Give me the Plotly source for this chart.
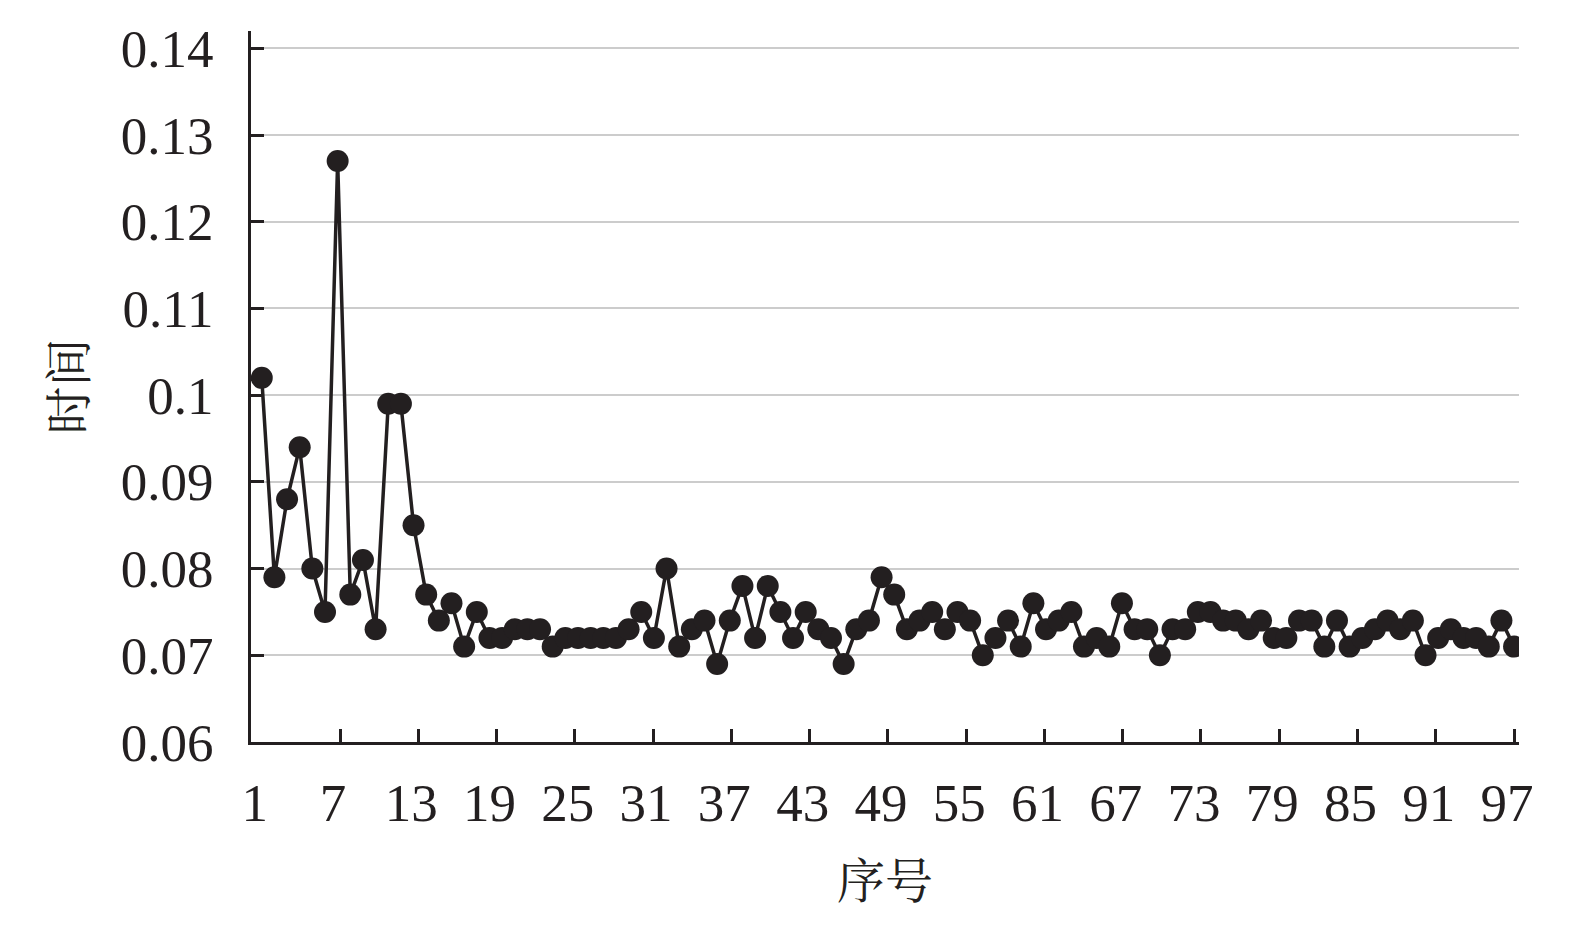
import plotly.graph_objects as go

# 序号 / 时间 data
seq = list(range(1, 101))
times = [
    0.102, 0.079, 0.088, 0.094, 0.080, 0.075, 0.127, 0.077, 0.081, 0.073,
    0.099, 0.099, 0.085, 0.077, 0.074, 0.076, 0.071, 0.075, 0.072, 0.072,
    0.073, 0.073, 0.073, 0.071, 0.072, 0.072, 0.072, 0.072, 0.072, 0.073,
    0.075, 0.072, 0.080, 0.071, 0.073, 0.074, 0.069, 0.074, 0.078, 0.072,
    0.078, 0.075, 0.072, 0.075, 0.073, 0.072, 0.069, 0.073, 0.074, 0.079,
    0.077, 0.073, 0.074, 0.075, 0.073, 0.075, 0.074, 0.070, 0.072, 0.074,
    0.071, 0.076, 0.073, 0.074, 0.075, 0.071, 0.072, 0.071, 0.076, 0.073,
    0.073, 0.070, 0.073, 0.073, 0.075, 0.075, 0.074, 0.074, 0.073, 0.074,
    0.072, 0.072, 0.074, 0.074, 0.071, 0.074, 0.071, 0.072, 0.073, 0.074,
    0.073, 0.074, 0.070, 0.072, 0.073, 0.072, 0.072, 0.071, 0.074, 0.071,
]
x_labels = [1, 7, 13, 19, 25, 31, 37, 43, 49, 55, 61, 67, 73, 79, 85, 91, 97]
y_ticks = [0.06, 0.07, 0.08, 0.09, 0.10, 0.11, 0.12, 0.13, 0.14]
y_labels = ["0.06", "0.07", "0.08", "0.09", "0.1", "0.11", "0.12", "0.13", "0.14"]

# the original axis spreads its labels 1..97 over the whole 100-point run
n = len(seq)
x_pos = [1 + (v - 1) * (n - 1) / (x_labels[-1] - 1) for v in x_labels]

ink = "#231f20"
num_font = dict(family="Liberation Serif, Times New Roman, serif", size=53, color=ink)
cjk_font = dict(family="Noto Serif CJK SC, Noto Sans CJK SC, serif", size=48, color=ink)

fig = go.Figure()
fig.add_trace(go.Scatter(
    x=seq, y=times, mode="lines+markers",
    line=dict(color=ink, width=3.5),
    marker=dict(color=ink, size=22),
    showlegend=False,
))

fig.update_xaxes(
    range=[0.15, 100.39],
    tickmode="array", tickvals=x_pos, ticktext=[str(v) for v in x_labels],
    ticks="inside", ticklen=0,
    minor=dict(tickmode="array", tickvals=x_pos[1:], ticks="inside",
               ticklen=13, tickwidth=3, tickcolor=ink, showgrid=False),
    ticklabelshift=-7, ticklabelstandoff=12,
    tickfont=num_font,
    showline=True, linecolor=ink, linewidth=3,
    showgrid=False, zeroline=False,
    title=dict(text="序号", font=cjk_font, standoff=34),
)
fig.update_yaxes(
    range=[0.06, 0.142],
    tickmode="array", tickvals=y_ticks, ticktext=y_labels,
    ticks="inside", ticklen=13, tickwidth=3, tickcolor=ink,
    ticklabelstandoff=24,
    tickfont=num_font,
    showline=True, linecolor=ink, linewidth=3,
    showgrid=True, gridcolor="#cccccc", gridwidth=2,
    zeroline=False,
    title=dict(text="时间", font=cjk_font, standoff=19),
)
# page body adds a small offset, so margins are shifted to compensate
fig.update_layout(
    width=1575, height=932,
    margin=dict(l=243, r=64, t=21, b=198),
    paper_bgcolor="white", plot_bgcolor="white",
)

fig.write_html("out.html")
